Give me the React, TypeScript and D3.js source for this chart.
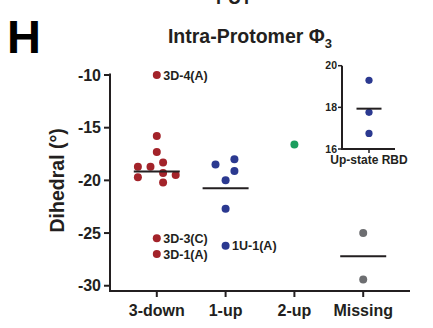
import React from 'react'
import * as d3 from 'd3'

const categories = ['3-down', '1-up', '2-up', 'Missing']
const colors = ['#a3232a', '#2b3990', '#1b9e5e', '#6d6e71']

// dihedral values per group, with a small horizontal lane (dodge) index
const downValues = [-15.8, -17.3, -18.3, -18.7, -18.7, -19.7, -19.3, -19.5, -20.2, -10.0, -25.5, -27.0]
const downLanes = [0, 0, 1, -3, -1, -3, 1, 3, 1, 0, 0, 0]
const upValues = [-18.5, -18.0, -19.1, -20.0, -22.7, -26.2]
const upLanes = [-1.6, 1.4, 1.4, 0, 0, 0]
const twoUpValues = [-16.6]
const missingValues = [-25.0, -29.4]

const pointLabels = [
  { group: 0, index: 9, text: '3D-4(A)' },
  { group: 0, index: 10, text: '3D-3(C)' },
  { group: 0, index: 11, text: '3D-1(A)' },
  { group: 1, index: 5, text: '1U-1(A)' },
]

const yTicks = [-10, -15, -20, -25, -30]

// inset: up-state RBD
const insetValues = [19.3, 17.76, 16.75]
const insetTicks = [16, 18, 20]

const FONT = '"Liberation Sans", Arial, Helvetica, sans-serif'
const INK = '#231f20'

export default function App() {
  const width = 433
  const height = 328

  const x = d3.scalePoint().domain(categories).range([110, 410]).padding(0.68)
  const y = d3.scaleLinear().domain([-30.5, -10]).range([291, 75])
  const lane = 6.3

  const groups = [
    { values: downValues, lanes: downLanes },
    { values: upValues, lanes: upLanes },
    { values: twoUpValues, lanes: twoUpValues.map(() => 0) },
    { values: missingValues, lanes: missingValues.map(() => 0) },
  ]

  const yi = d3.scaleLinear().domain([16, 20]).range([149, 65.7])
  const insetX = 369
  const insetMean = d3.mean(insetValues) as number

  return (
    <svg width={width} height={height} style={{ position: 'absolute', left: 0, top: 0, background: '#fff' }}
      fontFamily={FONT}>
      {/* cut-off text at the top, as in the source figure */}
      <text x={234} y={4} textAnchor="middle" fontSize={18} fontWeight="bold" fill={INK}>PUT</text>

      <text x={7} y={53} fontSize={47} fontWeight="bold" fill="#000">H</text>

      <text x={250} y={43} textAnchor="middle" fontSize={19.5} fontWeight="bold" fill={INK}>
        Intra-Protomer Φ<tspan fontSize={13} dy={5}>3</tspan>
      </text>

      {/* y axis */}
      <line x1={110} x2={110} y1={y(-10) - 1.5} y2={y(-30.5)} stroke={INK} strokeWidth={2} />
      {yTicks.map(t => (
        <g key={t}>
          <line x1={104} x2={110} y1={y(t)} y2={y(t)} stroke={INK} strokeWidth={2} />
          <text x={101} y={y(t)} dy="0.36em" textAnchor="end" fontSize={16} fontWeight="bold" fill={INK}>{t}</text>
        </g>
      ))}
      <text transform={`translate(64,${y(-20)}) rotate(-90)`} textAnchor="middle" fontSize={19.5}
        fontWeight="bold" fill={INK}>Dihedral (°)</text>

      {/* x axis */}
      <line x1={109} x2={410} y1={y(-30.5)} y2={y(-30.5)} stroke={INK} strokeWidth={2} />
      {categories.map(c => (
        <g key={c}>
          <line x1={x(c)} x2={x(c)} y1={y(-30.5)} y2={y(-30.5) + 6} stroke={INK} strokeWidth={2} />
          <text x={x(c)} y={316} textAnchor="middle" fontSize={16} fontWeight="bold" fill={INK}>{c}</text>
        </g>
      ))}

      {/* points */}
      {groups.map((g, gi) => (
        <g key={gi} fill={colors[gi]}>
          {g.values.map((v, i) => (
            <circle key={i} cx={(x(categories[gi]) as number) + g.lanes[i] * lane} cy={y(v)} r={4} />
          ))}
        </g>
      ))}

      {/* mean lines */}
      {groups.filter(g => g.values.length > 1).map((g) => {
        const gi = groups.indexOf(g)
        const cx = x(categories[gi]) as number
        const m = d3.mean(g.values) as number
        return <line key={gi} x1={cx - 23} x2={cx + 23} y1={y(m)} y2={y(m)} stroke={INK} strokeWidth={2} />
      })}

      {/* point labels */}
      {pointLabels.map(l => {
        const g = groups[l.group]
        const cx = (x(categories[l.group]) as number) + g.lanes[l.index] * lane
        return (
          <text key={l.text} x={cx + 6.5} y={y(g.values[l.index])} dy="0.36em" fontSize={12.5}
            fontWeight="bold" fill={INK}>{l.text}</text>
        )
      })}

      {/* inset */}
      <line x1={342} x2={342} y1={yi(20)} y2={yi(16)} stroke={INK} strokeWidth={2} />
      {insetTicks.map(t => (
        <g key={t}>
          <line x1={338} x2={342} y1={yi(t)} y2={yi(t)} stroke={INK} strokeWidth={1.5} />
          <text x={337} y={yi(t)} dy="0.36em" textAnchor="end" fontSize={10.5} fontWeight="bold" fill={INK}>{t}</text>
        </g>
      ))}
      <line x1={341} x2={395} y1={yi(16)} y2={yi(16)} stroke={INK} strokeWidth={2} />
      <line x1={insetX} x2={insetX} y1={yi(16)} y2={yi(16) + 4} stroke={INK} strokeWidth={1.5} />
      <text x={insetX} y={164} textAnchor="middle" fontSize={12} fontWeight="bold" fill={INK}>Up-state RBD</text>
      {insetValues.map((v, i) => (
        <circle key={i} cx={insetX} cy={yi(v)} r={3.6} fill={colors[1]} />
      ))}
      <line x1={insetX - 12.5} x2={insetX + 12.5} y1={yi(insetMean)} y2={yi(insetMean)} stroke={INK} strokeWidth={2} />
    </svg>
  )
}
